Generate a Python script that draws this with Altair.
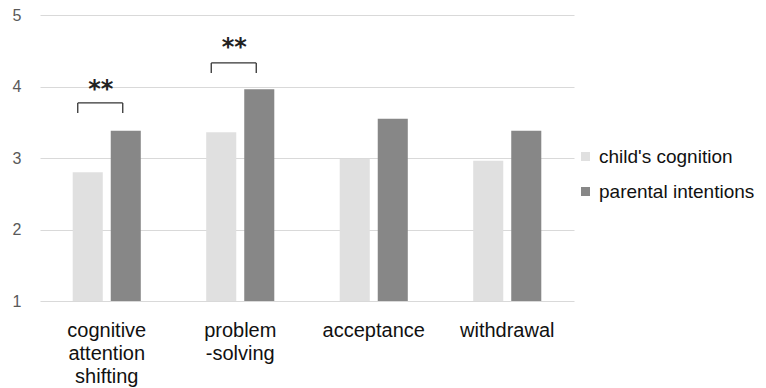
import altair as alt
import pandas as pd

categories = ["cognitive|attention|shifting", "problem|-solving", "acceptance", "withdrawal"]
series = ["child's cognition", "parental intentions"]
child_vals = [2.80, 3.36, 2.99, 2.96]
parent_vals = [3.38, 3.96, 3.55, 3.38]
colors = ["#e0e0e0", "#878787"]

sig_categories = ["cognitive|attention|shifting", "problem|-solving"]
sig_labels = ["**", "**"]
bracket_top = [3.77, 4.33]
bracket_bottom = [3.63, 4.19]
star_y = [4.00, 4.58]

rows = []
for c, a, b in zip(categories, child_vals, parent_vals):
    rows.append({"cat": c, "series": series[0], "value": a})
    rows.append({"cat": c, "series": series[1], "value": b})
df = pd.DataFrame(rows)
sig = pd.DataFrame({"cat": sig_categories, "top": bracket_top, "bottom": bracket_bottom,
                    "star": star_y, "label": sig_labels})

FONT = "Liberation Sans"

x_enc = alt.X("cat:N", sort=categories, title=None,
              scale=alt.Scale(paddingInner=0, paddingOuter=0),
              axis=alt.Axis(labelExpr="split(datum.label, '|')", labelAngle=0,
                            labelFontSize=20, labelColor="#111111", labelFont=FONT,
                            labelLineHeight=23, labelPadding=19, labelBaseline="top",
                            domain=False, ticks=False, grid=False))
y_scale = alt.Scale(domain=[1, 5], nice=False, zero=False)

bars = alt.Chart(df).mark_bar().encode(
    x=x_enc,
    xOffset=alt.XOffset("series:N", sort=series,
                        scale=alt.Scale(paddingInner=0.21, paddingOuter=0.86)),
    y=alt.Y("value:Q", scale=y_scale, title=None,
            axis=alt.Axis(values=[1, 2, 3, 4, 5], format="d", labelFontSize=16,
                          labelColor="#595959", labelFont=FONT, labelPadding=19,
                          domain=False, ticks=False, gridColor="#d9d9d9", gridWidth=1)),
    y2=alt.datum(1),
    color=alt.Color("series:N", sort=series,
                    scale=alt.Scale(domain=series, range=colors),
                    legend=alt.Legend(title=None, orient="none", legendX=536, legendY=132,
                                      symbolType="square", symbolSize=81,
                                      symbolStrokeWidth=0, labelFontSize=19,
                                      labelFont=FONT, labelColor="#111111",
                                      labelLimit=400, rowPadding=15, labelOffset=4)),
)

bx = alt.X("cat:N", sort=categories)
hrule = alt.Chart(sig).mark_rule(color="#333333", strokeWidth=1.3, xOffset=-29, x2Offset=16).encode(
    x=bx, x2=alt.X2("cat:N"), y=alt.Y("top:Q", scale=y_scale))
lrule = alt.Chart(sig).mark_rule(color="#333333", strokeWidth=1.3, xOffset=-29).encode(
    x=bx, y=alt.Y("top:Q", scale=y_scale), y2="bottom:Q")
rrule = alt.Chart(sig).mark_rule(color="#333333", strokeWidth=1.3, xOffset=16).encode(
    x=bx, y=alt.Y("top:Q", scale=y_scale), y2="bottom:Q")
stars = alt.Chart(sig).mark_text(font="DejaVu Sans", fontSize=24, fontWeight="bold",
                                 color="#222222", dx=-6, dy=3, baseline="middle").encode(
    x=bx, y=alt.Y("star:Q", scale=y_scale), text="label:N")

chart = alt.layer(bars, hrule, lrule, rrule, stars).properties(
    width=534, height=286,
    background="white",
    autosize=alt.AutoSizeParams(type="none"),
    padding={"left": 32, "top": 7, "right": 184, "bottom": 95},
).configure_view(stroke=None, strokeWidth=0)

chart.save("out.html", embed_options={"renderer": "svg", "actions": False})
